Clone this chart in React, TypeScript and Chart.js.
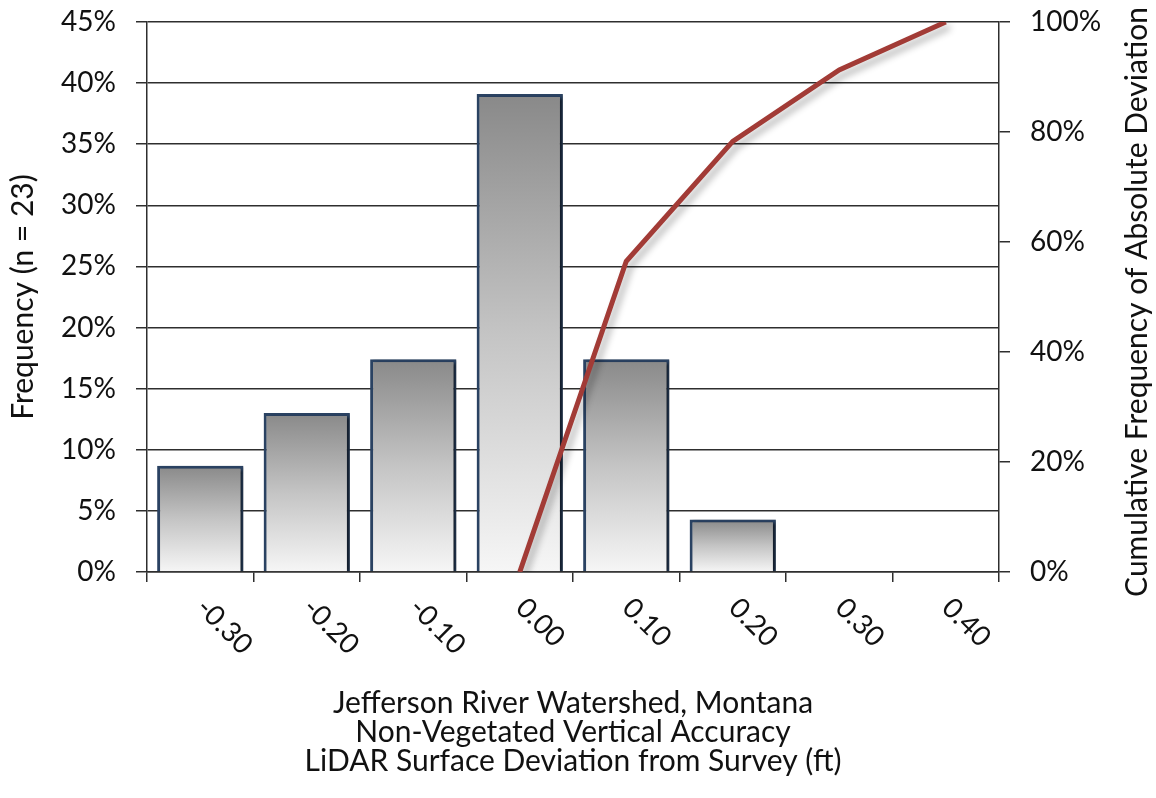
import React, { useEffect, useRef } from 'react';
import { Chart, registerables } from 'chart.js';

Chart.register(...registerables);

const categories = ['-0.30', '-0.20', '-0.10', '0.00', '0.10', '0.20', '0.30', '0.40'];
const frequencyPct = [8.7, 13.0, 17.4, 39.1, 17.4, 4.3, 0, 0];
const cumulativePct = [null, null, null, 0, 56.5, 78.3, 91.3, 100];
const xTitleLines = [
  'Jefferson River Watershed, Montana',
  'Non-Vegetated Vertical Accuracy',
  'LiDAR Surface Deviation from Survey (ft)',
];
const yTitle = 'Frequency (n = 23)';
const y1Title = 'Cumulative Frequency of Absolute Deviation';

const FONT = 'Lato';
const AXIS = '#2e2e2e';
const TEXT = '#111111';
const TICK_SIZE = 28;
const TITLE_SIZE = 30;

const customPlugin = {
  id: 'customDecor',
  beforeDatasetDraw(chart: any, args: any) {
    const ctx = chart.ctx;
    ctx.save();
    if (args.meta.type === 'bar') {
      ctx.shadowColor = 'rgba(0,0,0,0.6)';
      ctx.shadowBlur = 3;
      ctx.shadowOffsetX = 3;
      ctx.shadowOffsetY = 1;
    } else {
      ctx.shadowColor = 'rgba(0,0,0,0.3)';
      ctx.shadowBlur = 7;
      ctx.shadowOffsetX = 4;
      ctx.shadowOffsetY = 5;
    }
  },
  afterDatasetDraw(chart: any) {
    chart.ctx.restore();
  },
  afterDraw(chart: any) {
    const { ctx, scales, chartArea } = chart;
    const xs = scales.x;
    ctx.save();
    ctx.font = `${TICK_SIZE}px ${FONT}`;
    ctx.fillStyle = TEXT;
    ctx.textAlign = 'left';
    ctx.textBaseline = 'middle';
    categories.forEach((c, i) => {
      const px = xs.getPixelForValue(i);
      ctx.save();
      ctx.translate(px + 1, chartArea.bottom + 31);
      ctx.rotate(Math.PI / 4);
      ctx.fillText(c, 0, 0);
      ctx.restore();
    });
    ctx.font = `${TITLE_SIZE}px ${FONT}`;
    ctx.save();
    ctx.translate(1137, 302);
    ctx.rotate(-Math.PI / 2);
    ctx.textAlign = 'center';
    ctx.fillText(y1Title, 0, 0);
    ctx.restore();
    ctx.restore();
  },
};

export default function App() {
  const canvasRef = useRef<HTMLCanvasElement | null>(null);

  useEffect(() => {
    document.body.style.margin = '0';
    const canvas = canvasRef.current;
    if (!canvas) return;
    Chart.defaults.font.family = FONT;
    Chart.defaults.color = TEXT;

    const chart = new Chart(canvas, {
      type: 'bar',
      data: {
        labels: categories,
        datasets: [
          {
            type: 'bar',
            label: 'Frequency',
            data: frequencyPct,
            yAxisID: 'y',
            order: 2,
            barPercentage: 0.81,
            categoryPercentage: 1,
            borderColor: '#2a4262',
            borderWidth: 3,
            backgroundColor: (c: any) => {
              const ch = c.chart;
              const ys = ch.scales && ch.scales.y;
              if (!ys || c.type !== 'data' || c.raw == null) return '#bbbbbb';
              const top = ys.getPixelForValue(c.raw);
              const base = ys.getPixelForValue(0);
              if (!isFinite(top) || !isFinite(base) || base - top < 1) return '#bbbbbb';
              const g = ch.ctx.createLinearGradient(0, top, 0, base);
              g.addColorStop(0, '#898989');
              g.addColorStop(0.5, '#c4c4c4');
              g.addColorStop(1, '#f6f6f6');
              return g;
            },
          } as any,
          {
            type: 'line',
            label: 'Cumulative',
            data: cumulativePct,
            yAxisID: 'y1',
            order: 1,
            borderColor: '#a23b36',
            borderWidth: 5,
            pointRadius: 0,
            pointHoverRadius: 0,
            tension: 0,
            fill: false,
            spanGaps: false,
          } as any,
        ],
      },
      options: {
        animation: false,
        responsive: false,
        maintainAspectRatio: false,
        layout: { padding: { top: 22, left: 0, right: 0, bottom: 0 } },
        plugins: {
          legend: { display: false },
          tooltip: { enabled: false },
        },
        scales: {
          x: {
            type: 'category',
            offset: true,
            grid: {
              offset: true,
              drawOnChartArea: false,
              drawTicks: true,
              tickLength: 10,
              color: AXIS,
              lineWidth: 1.5,
            },
            border: { display: true, color: AXIS, width: 1.5 },
            ticks: { display: false },
            title: {
              display: true,
              text: xTitleLines,
              color: TEXT,
              font: { family: FONT, size: TITLE_SIZE, lineHeight: 29 / 30 },
              padding: { top: 0, bottom: 22 },
            },
            afterFit: (s: any) => {
              s.height = 226;
              s.paddingLeft = 0;
              s.paddingRight = 0;
            },
          },
          y: {
            position: 'left',
            min: 0,
            max: 45,
            ticks: {
              stepSize: 5,
              padding: 20,
              color: TEXT,
              font: { family: FONT, size: TICK_SIZE },
              callback: (v: any) => `${Math.round(Number(v))}%`,
            },
            grid: {
              color: AXIS,
              lineWidth: 1.5,
              drawTicks: true,
              tickLength: 11,
            },
            border: { display: true, color: AXIS, width: 1.5 },
            title: {
              display: true,
              text: yTitle,
              color: TEXT,
              font: { family: FONT, size: TITLE_SIZE, lineHeight: 1.2 },
              padding: { top: 5, bottom: 0 },
            },
            afterFit: (s: any) => {
              s.width = 147;
              s.paddingTop = 0;
              s.paddingBottom = 0;
            },
          },
          y1: {
            position: 'right',
            min: 0,
            max: 100,
            ticks: {
              stepSize: 20,
              padding: 20,
              color: TEXT,
              font: { family: FONT, size: TICK_SIZE },
              callback: (v: any) => `${Math.round(Number(v))}%`,
            },
            grid: {
              drawOnChartArea: false,
              color: AXIS,
              lineWidth: 1.5,
              drawTicks: true,
              tickLength: 11,
            },
            border: { display: true, color: AXIS, width: 1.5 },
            afterFit: (s: any) => {
              s.width = 157;
              s.paddingTop = 0;
              s.paddingBottom = 0;
            },
          },
        },
      },
      plugins: [customPlugin],
    } as any);

    return () => {
      chart.destroy();
    };
  }, []);

  return (
    <div style={{ width: 1156, height: 798, position: 'relative' }}>
      <canvas ref={canvasRef} width={1156} height={798} style={{ display: 'block' }} />
    </div>
  );
}
